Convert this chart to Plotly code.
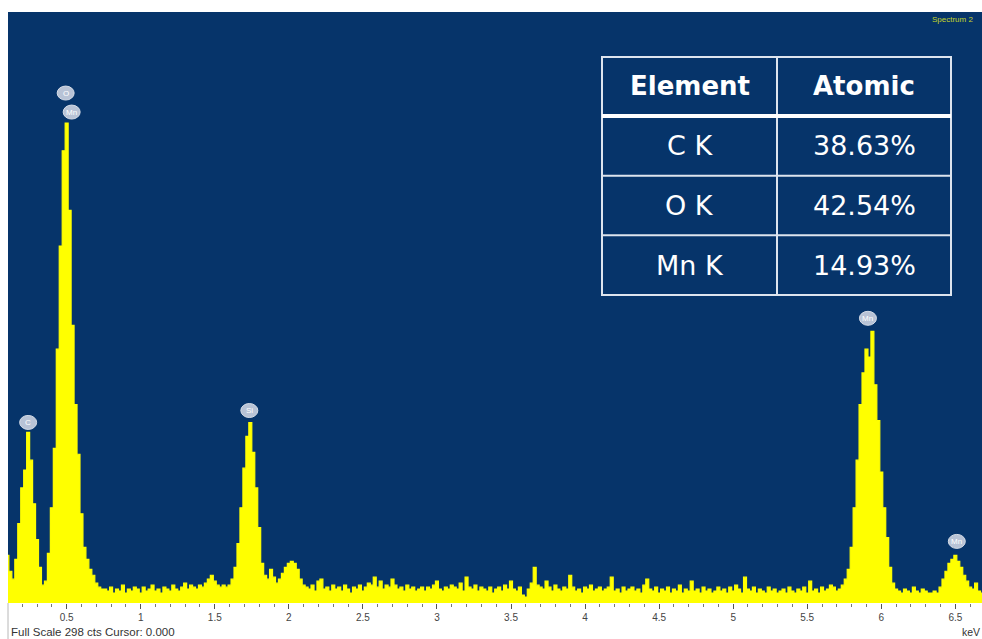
import plotly.graph_objects as go

# ---------------- data ----------------
E_START = 0.10      # keV, centre of first channel
E_STEP = 0.02       # keV per channel

counts = [
    24, 16, 12, 22, 40, 58, 67, 86, 72, 50,
    32, 18, 9, 11, 25, 48, 78, 128, 180, 228,
    242, 198, 140, 100, 75, 45, 28, 22, 17, 14,
    10, 8, 7, 7, 6, 8, 5, 7, 6, 9,
    5, 7, 6, 8, 7, 5, 8, 6, 7, 9,
    6, 7, 5, 8, 7, 6, 9, 7, 6, 8,
    10, 7, 9, 8, 7, 9, 8, 10, 12, 14,
    11, 9, 8, 9, 8, 9, 12, 18, 30, 48,
    68, 84, 91, 76, 58, 38, 20, 14, 12, 17,
    13, 10, 12, 15, 18, 20, 21, 20, 17, 12,
    9, 8, 7, 9, 6, 11, 12, 7, 8, 6,
    9, 7, 8, 6, 9, 7, 5, 8, 7, 9,
    6, 8, 10, 9, 13, 8, 11, 7, 9, 8,
    12, 9, 7, 8, 6, 9, 7, 8, 6, 7,
    8, 6, 8, 7, 9, 11, 7, 6, 8, 7,
    9, 8, 7, 10, 6, 13, 8, 7, 9, 6,
    8, 7, 6, 8, 5, 7, 8, 6, 9, 7,
    11, 7, 6, 8, 4, 3, 7, 10, 18, 9,
    8, 7, 11, 8, 6, 9, 7, 6, 8, 7,
    14, 8, 6, 7, 5, 8, 7, 9, 6, 7,
    8, 6, 7, 8, 13, 6, 7, 5, 8, 6,
    7, 8, 6, 7, 5, 9, 12, 7, 6, 8,
    5, 7, 6, 8, 5, 7, 6, 9, 5, 7,
    6, 11, 6, 7, 5, 8, 6, 7, 5, 6,
    8, 6, 7, 5, 8, 6, 9, 7, 5, 13,
    7, 6, 8, 5, 7, 6, 5, 8, 6, 7,
    5, 6, 7, 5, 8, 6, 5, 7, 6, 8,
    5, 11, 6, 7, 5, 8, 6, 7, 9, 8,
    6, 7, 9, 12, 17, 28, 48, 72, 100, 116,
    128, 124, 137, 110, 92, 66, 48, 33, 18, 10,
    7, 6, 5, 7, 6, 5, 8, 6, 5, 7,
    6, 5, 5, 6, 5, 8, 12, 16, 20, 22,
    24, 21, 18, 14, 11, 8, 7, 10, 6, 5,
]

tick_vals = [0.5, 1, 1.5, 2, 2.5, 3, 3.5, 4, 4.5, 5, 5.5, 6, 6.5]
tick_text = ["0.5", "1", "1.5", "2", "2.5", "3", "3.5", "4", "4.5", "5", "5.5", "6", "6.5"]

peak_labels = ["C", "O", "Mn", "Si", "Mn", "Mn"]
peak_energy = [0.24, 0.50, 0.50, 1.74, 5.91, 6.51]

full_scale = 298

tbl_headers = ["Element", "Atomic"]
tbl_elements = ["C K", "O K", "Mn K"]
tbl_atomic = ["38.63%", "42.54%", "14.93%"]

# ---------------- styling / layout constants ----------------
W, H = 982, 639
ML, MR, MT, MB = 8, 0, 12, 36
PW, PH = W - ML - MR, H - MT - MB
BLUE = "#06346a"
YELLOW = "#ffff00"
X_RANGE = [0.104, 6.68]


def px(x):
    return (x - ML) / PW


def py(y):
    return (H - MB - y) / PH


energies = [round(E_START + E_STEP * i, 4) for i in range(len(counts))]

fig = go.Figure()
fig.add_trace(go.Scatter(
    x=energies, y=counts, mode="lines", line_shape="hvh",
    line=dict(color=YELLOW, width=1.2), fill="tozeroy", fillcolor=YELLOW,
    hoverinfo="skip", showlegend=False,
))

shapes = []
annotations = []

# peak labels (pixel offsets relative to the peak top)
label_offsets = [(0, 10), (-1, 30), (5, 11), (-1, 12), (0, 13), (0, 14)]
for name, en, (dx, dy) in zip(peak_labels, peak_energy, label_offsets):
    ymax = max(c for e, c in zip(energies, counts) if abs(e - en) <= 0.041)
    shapes.append(dict(type="circle", xref="x", yref="y", xsizemode="pixel", ysizemode="pixel",
                       xanchor=en, yanchor=ymax, x0=dx - 8.5, x1=dx + 8.5, y0=dy - 7, y1=dy + 7,
                       fillcolor="#b8c3d6", line=dict(color="#d6dde8", width=1), layer="above"))
    annotations.append(dict(x=en, y=ymax, xref="x", yref="y", text=name, showarrow=False,
                            xanchor="center", yanchor="middle",
                            xshift=dx, yshift=dy, font=dict(family="Liberation Sans, Arial", size=8, color="#ffffff")))

# table
T_L, T_R, T_MID = 602, 951, 777
T_TOP, T_HEAD, T_BOT = 57, 116, 295
row_h = (T_BOT - T_HEAD) / len(tbl_elements)
border = "#dde4ee"
shapes.append(dict(type="rect", xref="paper", yref="paper", x0=px(T_L), x1=px(T_R), y0=py(T_BOT), y1=py(T_TOP),
                   line=dict(color=border, width=2), fillcolor=BLUE, layer="above"))
shapes.append(dict(type="line", xref="paper", yref="paper", x0=px(T_MID), x1=px(T_MID), y0=py(T_BOT), y1=py(T_TOP),
                   line=dict(color=border, width=2), layer="above"))
shapes.append(dict(type="line", xref="paper", yref="paper", x0=px(T_L), x1=px(T_R), y0=py(T_HEAD), y1=py(T_HEAD),
                   line=dict(color="#ffffff", width=4), layer="above"))
for k in range(1, len(tbl_elements)):
    yy = T_HEAD + row_h * k
    shapes.append(dict(type="line", xref="paper", yref="paper", x0=px(T_L), x1=px(T_R), y0=py(yy), y1=py(yy),
                       line=dict(color=border, width=2), layer="above"))

col_c = [(T_L + T_MID) / 2, (T_MID + T_R) / 2]
for hdr, cx in zip(tbl_headers, col_c):
    annotations.append(dict(x=px(cx), y=py((T_TOP + T_HEAD) / 2), xref="paper", yref="paper",
                            xanchor="center", yanchor="middle",
                            text="<b>%s</b>" % hdr, showarrow=False,
                            font=dict(family="DejaVu Sans", size=26, color="#ffffff")))
for k, (el, at) in enumerate(zip(tbl_elements, tbl_atomic)):
    cy = T_HEAD + row_h * (k + 0.5)
    for txt, cx in zip([el, at], col_c):
        annotations.append(dict(x=px(cx), y=py(cy), xref="paper", yref="paper", text=txt, showarrow=False,
                                xanchor="center", yanchor="middle",
                                font=dict(family="DejaVu Sans", size=27, color="#ffffff")))

# footer / header texts
annotations.append(dict(x=px(9), y=py(632), xref="paper", yref="paper", xanchor="left", yanchor="middle",
                        text="Full Scale %d cts Cursor: 0.000" % full_scale, showarrow=False,
                        font=dict(family="Liberation Sans, Arial", size=11.5, color="#333333")))
annotations.append(dict(x=px(960), y=py(632), xref="paper", yref="paper", xanchor="left", yanchor="middle",
                        text="keV", showarrow=False,
                        font=dict(family="Liberation Sans, Arial", size=10.5, color="#333333")))
annotations.append(dict(x=px(930), y=py(20), xref="paper", yref="paper", xanchor="left", yanchor="middle",
                        text="Spectrum 2", showarrow=False,
                        font=dict(family="Liberation Sans, Arial", size=8, color="#c4d42a")))

# window frame lines
shapes.append(dict(type="line", xref="paper", yref="paper", x0=0, x1=0, y0=py(H), y1=0,
                   line=dict(color="#b8b8b8", width=1)))

fig.update_layout(
    width=W, height=H, margin=dict(l=ML, r=MR, t=MT, b=MB),
    paper_bgcolor="#ffffff", plot_bgcolor=BLUE,
    shapes=shapes, annotations=annotations, showlegend=False,
    xaxis=dict(range=X_RANGE, showgrid=False, zeroline=False, showline=False,
               tickmode="array", tickvals=tick_vals, ticktext=tick_text,
               ticks="outside", ticklen=5, tickcolor="#555555", tickwidth=1,
               tickfont=dict(family="Liberation Sans, Arial", size=10, color="#444444"),
               minor=dict(dtick=0.1, tick0=0, ticks="outside", ticklen=3, tickcolor="#777777")),
    yaxis=dict(range=[0, full_scale], visible=False, fixedrange=True),
)

fig.write_html("out.html", config={"displayModeBar": False},
               post_script="document.body.style.margin='0px';")
